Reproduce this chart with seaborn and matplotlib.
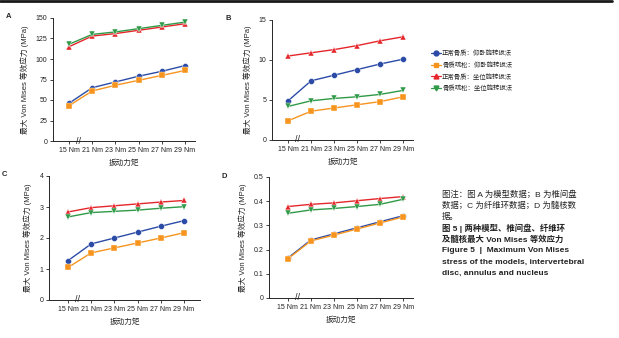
import numpy as np
import pandas as pd
import seaborn as sns
import matplotlib
matplotlib.use("Agg")
import matplotlib.pyplot as plt
from matplotlib.lines import Line2D

# ---------------- data ----------------
categories = ["15 Nm", "21 Nm", "23 Nm", "25 Nm", "27 Nm", "29 Nm"]
series_names = ["正常骨质：仰卧旋转扳法", "骨质疏松：仰卧旋转扳法",
                "正常骨质：坐位旋转扳法", "骨质疏松：坐位旋转扳法"]

a_blue = [46, 65, 72, 79, 85, 92]
a_orange = [43, 61, 68, 74, 80, 86]
a_red = [115, 128, 131, 135, 139, 143]
a_green = [118, 130, 133, 137, 141, 145]

b_blue = [4.9, 7.4, 8.1, 8.8, 9.5, 10.1]
b_orange = [2.4, 3.6, 4.0, 4.4, 4.8, 5.4]
b_red = [10.5, 10.9, 11.3, 11.8, 12.4, 12.9]
b_green = [4.2, 4.9, 5.2, 5.4, 5.7, 6.2]

c_blue = [1.27, 1.81, 2.00, 2.19, 2.38, 2.56]
c_orange = [1.05, 1.52, 1.68, 1.84, 2.00, 2.17]
c_red = [2.84, 2.98, 3.04, 3.10, 3.16, 3.21]
c_green = [2.68, 2.82, 2.86, 2.90, 2.96, 3.01]

d_blue = [0.165, 0.240, 0.265, 0.290, 0.315, 0.340]
d_orange = [0.162, 0.236, 0.260, 0.285, 0.310, 0.335]
d_red = [0.378, 0.387, 0.393, 0.402, 0.411, 0.419]
d_green = [0.350, 0.364, 0.370, 0.378, 0.387, 0.408]

a_yticks = [0, 25, 50, 75, 100, 125, 150]
a_ylabels = ["0", "25", "50", "75", "100", "125", "150"]
b_yticks = [0, 5, 10, 15]
b_ylabels = ["0", "5", "10", "15"]
c_yticks = [0, 1, 2, 3, 4]
c_ylabels = ["0", "1", "2", "3", "4"]
d_yticks = [0, 0.1, 0.2, 0.3, 0.4, 0.5]
d_ylabels = ["0", "0.1", "0.2", "0.3", "0.4", "0.5"]

caption_lines = [
    ("图注：图 A 为模型数据；B 为椎间盘", "normal"),
    ("数据；C 为纤维环数据；D 为髓核数", "normal"),
    ("据。", "normal"),
    ("图 5 | 两种模型、椎间盘、纤维环", "bold"),
    ("及髓核最大 Von Mises 等效应力", "bold"),
    ("Figure 5  |  Maximum Von Mises", "bold"),
    ("stress of the models, intervertebral", "bold"),
    ("disc, annulus and nucleus", "bold"),
]

ylabel_text = "最大 Von Mises 等效应力 (MPa)"
xlabel_text = "扳动力矩"

# ---------------- style ----------------
sns.set_theme(style="ticks")
plt.rcParams["font.family"] = ["Liberation Sans", "Noto Sans CJK SC", "DejaVu Sans"]

colors = ["#2b4ba6", "#f7941d", "#e5262a", "#2f9a47"]
markers = ["o", "s", "^", "v"]

W, H = 619, 338
fig = plt.figure(figsize=(W / 100, H / 100), dpi=100)


def px_axes(left, top, right, bottom):
    return fig.add_axes([left / W, 1 - bottom / H, (right - left) / W, (bottom - top) / H])


panels = [
    ("A", (53, 18, 195, 141), [a_blue, a_orange, a_red, a_green], (0, 150), a_yticks, a_ylabels, (-0.69, 5.43)),
    ("B", (272, 20, 413, 140), [b_blue, b_orange, b_red, b_green], (0, 15), b_yticks, b_ylabels, (-0.70, 5.43)),
    ("C", (49, 176, 200, 300), [c_blue, c_orange, c_red, c_green], (0, 4), c_yticks, c_ylabels, (-0.82, 5.69)),
    ("D", (269, 177, 413, 298), [d_blue, d_orange, d_red, d_green], (0, 0.5), d_yticks, d_ylabels, (-0.82, 5.43)),
]

for label, box, vals, ylim, yt, yl, xlim in panels:
    ax = px_axes(*box)
    rows = []
    for name, v in zip(series_names, vals):
        for i, y in enumerate(v):
            rows.append({"x": i, "y": y, "series": name})
    df = pd.DataFrame(rows)
    sns.lineplot(data=df, x="x", y="y", hue="series", style="series",
                 hue_order=series_names, style_order=series_names,
                 palette=colors, markers=markers, dashes=False,
                 markersize=4.3, linewidth=1.0, markeredgewidth=0.3,
                 legend=False, ax=ax)
    ax.set_xlim(*xlim)
    ax.set_ylim(*ylim)
    ax.set_xticks(range(len(categories)))
    ax.set_xticklabels(categories, fontsize=5)
    ax.set_yticks(yt)
    ax.set_yticklabels(yl, fontsize=5)
    ax.tick_params(length=2.5, width=0.6, pad=1.5, colors="#222222")
    for s in ["top", "right"]:
        ax.spines[s].set_visible(False)
    for s in ["left", "bottom"]:
        ax.spines[s].set_linewidth(0.7)
    ax.set_xlabel(xlabel_text, fontsize=5.5, labelpad=4)
    ax.set_ylabel(ylabel_text, fontsize=5.5, labelpad=5)
    # axis break mark
    ax.text(0.42, 0.0, "//", transform=ax.get_xaxis_transform(), fontsize=6.5,
            ha="center", va="center", color="#222222", clip_on=False)
    fig.text((box[0] - 47) / W, 1 - (box[1] - 1) / H, label, fontsize=5.5,
             fontweight="bold", ha="left", va="center")

# top rule
fig.add_artist(Line2D([0, 612 / W], [1 - 1 / H, 1 - 1 / H], color="#1a1a1a", linewidth=2))

# legend
handles = [Line2D([0], [0], color=c, marker=m, markersize=3.5, linewidth=0.9)
           for c, m in zip(colors, markers)]
fig.legend(handles, series_names, loc="upper left", bbox_to_anchor=(428 / W, 1 - 47 / H),
           frameon=False, fontsize=4.6, handlelength=1.6, handletextpad=0.2,
           labelspacing=0.75, borderaxespad=0)

# caption
y0 = 195
for i, (txt, wt) in enumerate(caption_lines):
    fig.text(442 / W, 1 - (y0 + i * 11.2) / H, txt, fontsize=6.0, fontweight=wt,
             ha="left", va="center", color="#222222")

fig.savefig("out.png", dpi=100)
